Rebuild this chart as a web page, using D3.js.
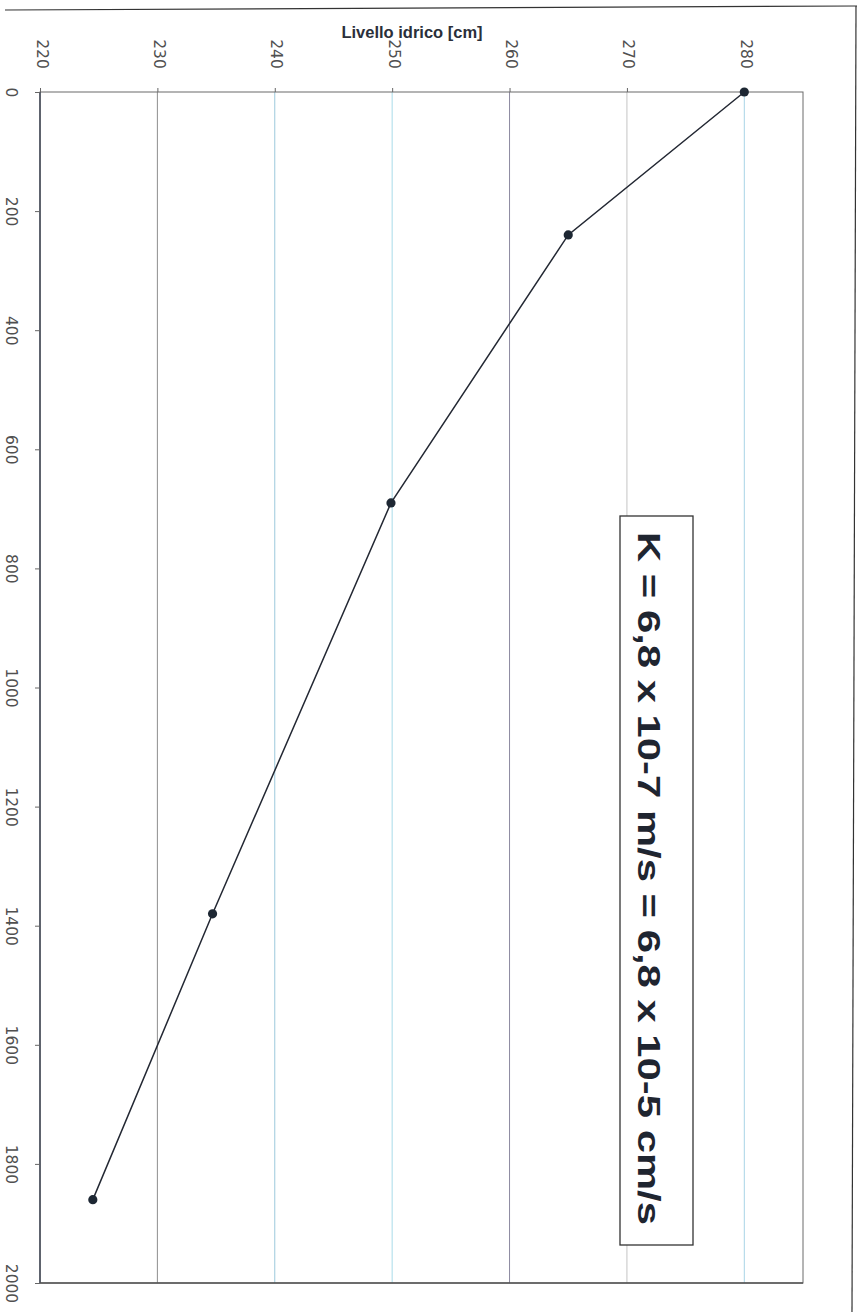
<!DOCTYPE html>
<html>
<head>
<meta charset="utf-8">
<script src="https://cdn.jsdelivr.net/npm/d3@7/dist/d3.min.js"></script>
<style>
  html, body { margin: 0; padding: 0; background: #fff; }
  svg { display: block; }
</style>
</head>
<body>
<svg id="chart" width="858" height="1312"></svg>
<script>
// ---- data ----
const levels = [280, 265, 249.9, 234.7, 224.5];      // Livello idrico [cm]
const times = [0, 240, 690, 1380, 1860];             // tempo
const levelTicks = [220, 230, 240, 250, 260, 270, 280];
const timeTicks = [0, 200, 400, 600, 800, 1000, 1200, 1400, 1600, 1800, 2000];
const axisTitle = "Livello idrico [cm]";
const note = "K = 6,8 x 10-7 m/s = 6,8 x 10-5 cm/s";
const gridColors = ["#8e8e8e", "#9cc9dc", "#a9dbe9", "#8d8aa0", "#c4c4c4", "#a8d4e6"];

const svg = d3.select("#chart");
const pLeft = 40, pRight = 803, pTop = 92, pBottom = 1283;

const x = d3.scaleLinear().domain([220, 285]).range([pLeft, pRight]);
const y = d3.scaleLinear().domain([0, 2000]).range([pTop, pBottom]);

// page edge lines (scan)
svg.append("line").attr("x1", 5).attr("y1", 10).attr("x2", 857).attr("y2", 6)
  .attr("stroke", "#333").attr("stroke-width", 1.2);
svg.append("line").attr("x1", 856).attr("y1", 6).attr("x2", 852).attr("y2", 1312)
  .attr("stroke", "#333").attr("stroke-width", 1.2);

// gridlines
svg.append("g").selectAll("line")
  .data(levelTicks.slice(1))
  .join("line")
  .attr("x1", d => x(d)).attr("x2", d => x(d))
  .attr("y1", pTop).attr("y2", pBottom)
  .attr("stroke", (d, i) => gridColors[i])
  .attr("stroke-width", 1);

// plot frame
svg.append("rect")
  .attr("x", pLeft).attr("y", pTop)
  .attr("width", pRight - pLeft).attr("height", pBottom - pTop)
  .attr("fill", "none").attr("stroke", "#6a6a6a").attr("stroke-width", 1);
svg.append("line").attr("x1", pLeft).attr("x2", pLeft).attr("y1", pTop).attr("y2", pBottom)
  .attr("stroke", "#3a4150").attr("stroke-width", 1.4);
svg.append("line").attr("x1", pLeft).attr("x2", pRight).attr("y1", pBottom).attr("y2", pBottom)
  .attr("stroke", "#555").attr("stroke-width", 1.3);

// left axis (time)
const yAxis = svg.append("g")
  .attr("transform", `translate(${pLeft},0)`)
  .call(d3.axisLeft(y).tickValues(timeTicks).tickSize(5).tickFormat(d3.format("d")));
yAxis.select(".domain").remove();
yAxis.selectAll(".tick line").attr("stroke", "#666");
yAxis.selectAll(".tick text")
  .attr("x", 0).attr("y", 0)
  .attr("dy", null)
  .attr("transform", "translate(-29,0) rotate(90)")
  .attr("text-anchor", "middle")
  .attr("dominant-baseline", "central")
  .attr("font-family", "DejaVu Sans, sans-serif")
  .attr("font-size", 15.5)
  .attr("fill", "#505050");

// top axis (level)
const xAxis = svg.append("g")
  .attr("transform", `translate(0,${pTop})`)
  .call(d3.axisTop(x).tickValues(levelTicks).tickSize(4).tickFormat(d3.format("d")));
xAxis.select(".domain").remove();
xAxis.selectAll(".tick line").attr("stroke", "#666");
xAxis.selectAll(".tick text")
  .attr("x", 0).attr("y", 0)
  .attr("dy", null)
  .attr("transform", "translate(1,-38) rotate(90)")
  .attr("text-anchor", "middle")
  .attr("dominant-baseline", "central")
  .attr("font-family", "DejaVu Sans, sans-serif")
  .attr("font-size", 15.5)
  .attr("fill", "#505050");

// axis title
svg.append("text")
  .attr("x", 412).attr("y", 38)
  .attr("text-anchor", "middle")
  .attr("font-family", "Liberation Sans, Arial, sans-serif")
  .attr("font-weight", "bold")
  .attr("font-size", 16.5)
  .attr("fill", "#2a2f3a")
  .text(axisTitle);

// line + points
const pts = levels.map((v, i) => [v, times[i]]);
svg.append("path")
  .datum(pts)
  .attr("fill", "none")
  .attr("stroke", "#232833")
  .attr("stroke-width", 1.5)
  .attr("d", d3.line().x(d => x(d[0])).y(d => y(d[1])));
svg.append("g").selectAll("circle")
  .data(pts)
  .join("circle")
  .attr("cx", d => x(d[0])).attr("cy", d => y(d[1]))
  .attr("r", 4.6)
  .attr("fill", "#1d2733");

// annotation box
const bx = 620, by = 516, bw = 73, bh = 729;
svg.append("rect")
  .attr("x", bx).attr("y", by).attr("width", bw).attr("height", bh)
  .attr("fill", "#fff").attr("stroke", "#333").attr("stroke-width", 1.3);
svg.append("text")
  .attr("transform", `translate(${bx + 18},${by + 16}) rotate(90)`)
  .attr("font-family", "Liberation Sans, Arial, sans-serif")
  .attr("font-weight", "bold")
  .attr("font-size", 32)
  .attr("fill", "#1f2530")
  .attr("textLength", 693)
  .attr("lengthAdjust", "spacingAndGlyphs")
  .text(note);
</script>
</body>
</html>
